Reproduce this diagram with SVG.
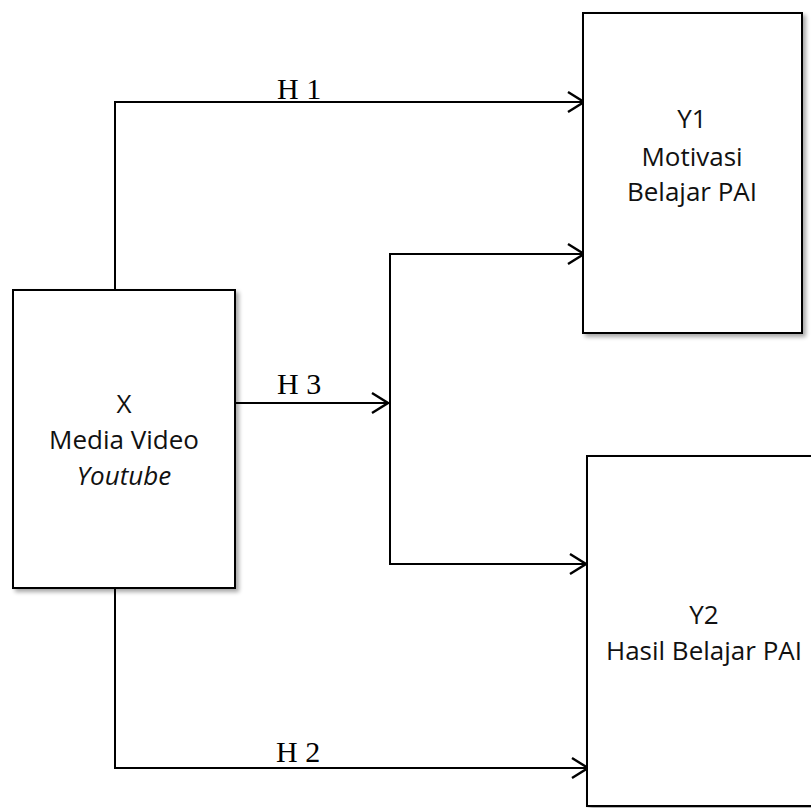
<svg xmlns="http://www.w3.org/2000/svg" width="811" height="808" viewBox="0 0 811 808">
<style>
.box{fill:#fff;stroke:#000;stroke-width:2;filter:url(#sh)}
.lbl{font-family:"Open Sans","Lato",sans-serif;font-size:26px;fill:#111;text-anchor:middle}
.h{font-family:"Liberation Serif","Times New Roman",serif;font-size:30px;fill:#000}
.c{fill:none;stroke:#000;stroke-width:2}
</style>
<defs>
<filter id="sh" x="-10%" y="-10%" width="125%" height="125%">
<feGaussianBlur in="SourceAlpha" stdDeviation="2"/>
<feOffset dx="3" dy="3" result="b"/>
<feComponentTransfer><feFuncA type="linear" slope="0.35"/></feComponentTransfer>
<feMerge><feMergeNode/><feMergeNode in="SourceGraphic"/></feMerge>
</filter>
<marker id="ar" viewBox="0 0 20 24" refX="18" refY="12" markerWidth="20" markerHeight="24" markerUnits="userSpaceOnUse" orient="auto">
<path d="M2,2 L18,12 L2,22" fill="none" stroke="#000" stroke-width="2.4"/>
</marker>
</defs>
<rect width="811" height="808" fill="#fff"/>
<g id="connectors">
<path class="c" d="M115,290 V102 H584" marker-end="url(#ar)"/>
<path class="c" d="M115,588 V768 H588" marker-end="url(#ar)"/>
<path class="c" d="M235,403 H388" marker-end="url(#ar)"/>
<path class="c" d="M390,254 H584" marker-end="url(#ar)"/>
<path class="c" d="M390,253 V564 H586" marker-end="url(#ar)"/>
<text class="h" x="277" y="99">H 1</text>
<text class="h" x="277" y="394">H 3</text>
<text class="h" x="276" y="762">H 2</text>
</g>
<g id="node-x">
<rect class="box" x="13" y="290" width="222" height="298"/>
<text class="lbl" x="124" y="413">X</text>
<text class="lbl" x="124" y="449">Media Video</text>
<text class="lbl" x="124" y="485" font-style="italic">Youtube</text>
</g>
<g id="node-y1">
<rect class="box" x="583" y="13" width="219" height="320"/>
<text class="lbl" x="692" y="128">Y1</text>
<text class="lbl" x="692" y="166">Motivasi</text>
<text class="lbl" x="692" y="201">Belajar PAI</text>
</g>
<g id="node-y2">
<rect class="box" x="587" y="456" width="260" height="350"/>
<text class="lbl" x="704" y="624">Y2</text>
<text class="lbl" x="704" y="660">Hasil Belajar PAI</text>
</g>
</svg>
